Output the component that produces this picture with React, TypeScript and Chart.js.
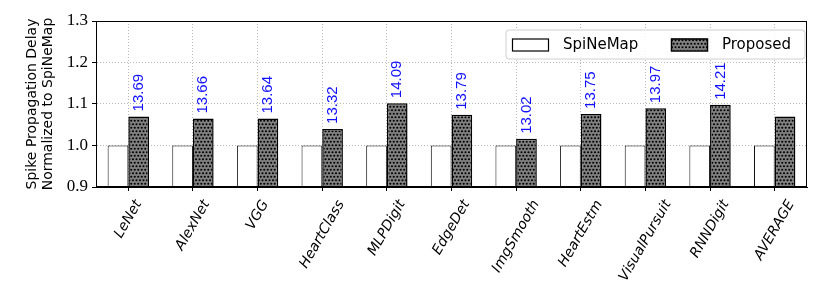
import { useEffect, useRef } from "react";
import { Chart, registerables } from "chart.js";

Chart.register(...registerables);

const categories = ["LeNet", "AlexNet", "VGG", "HeartClass", "MLPDigit", "EdgeDet", "ImgSmooth", "HeartEstm", "VisualPursuit", "RNNDigit", "AVERAGE"];
const spinemapValues = [1, 1, 1, 1, 1, 1, 1, 1, 1, 1, 1];
const proposedValues = [1.07, 1.065, 1.065, 1.04, 1.102, 1.074, 1.016, 1.076, 1.09, 1.098, 1.07];
const proposedLabels = ["13.69", "13.66", "13.64", "13.32", "14.09", "13.79", "13.02", "13.75", "13.97", "14.21", ""];
const yMin = 0.9;
const yMax = 1.3;
const yStep = 0.1;
const yTitle = ["Spike Propagation Delay", "Normalized to SpiNeMap"];
const seriesNames = ["SpiNeMap", "Proposed"];

function makePattern(): CanvasPattern | string {
  const c = document.createElement("canvas");
  c.width = 7;
  c.height = 7;
  const g = c.getContext("2d");
  if (!g) return "#555";
  g.fillStyle = "#808080";
  g.fillRect(0, 0, 7, 7);
  g.fillStyle = "#000";
  const dots = [
    [1.75, 1.75], [5.25, 1.75],
    [0, 5.25], [3.5, 5.25], [7, 5.25],
  ];
  for (const [x, y] of dots) {
    g.beginPath();
    g.arc(x, y, 1.05, 0, Math.PI * 2);
    g.fill();
  }
  const p = g.createPattern(c, "repeat");
  return p || "#555";
}

export default function App() {
  const ref = useRef<HTMLCanvasElement | null>(null);

  useEffect(() => {
    document.body.style.margin = "0";
    const canvas = ref.current;
    if (!canvas) return;
    const pattern = makePattern();

    const valueLabels = {
      id: "valueLabels",
      afterDatasetsDraw(chart: any) {
        const ctx = chart.ctx;
        const meta = chart.getDatasetMeta(1);
        ctx.save();
        ctx.fillStyle = "#1010ff";
        ctx.font = '15px "Liberation Sans"';
        ctx.textAlign = "left";
        ctx.textBaseline = "middle";
        meta.data.forEach((el: any, i: number) => {
          const t = proposedLabels[i];
          if (!t) return;
          ctx.save();
          ctx.translate(el.x, el.y - 5);
          ctx.rotate(-Math.PI / 2);
          ctx.fillText(t, 0, 0);
          ctx.restore();
        });
        ctx.restore();
      },
    };

    const frameAndLegend = {
      id: "frameAndLegend",
      afterDraw(chart: any) {
        const ctx = chart.ctx;
        const ca = chart.chartArea;
        ctx.save();
        ctx.strokeStyle = "#000";
        ctx.lineWidth = 1;
        ctx.strokeRect(Math.round(ca.left) + 0.5, Math.round(ca.top) + 0.5, Math.round(ca.right - ca.left) - 1, Math.round(ca.bottom - ca.top) - 1);
        ctx.restore();

        const xs = chart.scales.x;
        ctx.save();
        ctx.font = 'italic 14px "DejaVu Sans"';
        ctx.fillStyle = "#000";
        ctx.textAlign = "center";
        ctx.textBaseline = "middle";
        const ang = (60 * Math.PI) / 180;
        categories.forEach((c, i) => {
          const x = xs.getPixelForTick(i);
          const w = ctx.measureText(c).width;
          const h = 14;
          const vert = w * Math.sin(ang) + h * Math.cos(ang);
          const cy = ca.bottom + 11 + vert / 2;
          ctx.save();
          ctx.translate(x, cy);
          ctx.rotate(-ang);
          ctx.fillText(c, 0, 0);
          ctx.restore();
        });
        ctx.restore();

        const bw = 299, bh = 29;
        const bx = ca.right - 2 - bw;
        const by = ca.top + 9;
        ctx.save();
        ctx.beginPath();
        const r = 3;
        ctx.moveTo(bx + r, by);
        ctx.lineTo(bx + bw - r, by);
        ctx.arcTo(bx + bw, by, bx + bw, by + r, r);
        ctx.lineTo(bx + bw, by + bh - r);
        ctx.arcTo(bx + bw, by + bh, bx + bw - r, by + bh, r);
        ctx.lineTo(bx + r, by + bh);
        ctx.arcTo(bx, by + bh, bx, by + bh - r, r);
        ctx.lineTo(bx, by + r);
        ctx.arcTo(bx, by, bx + r, by, r);
        ctx.closePath();
        ctx.fillStyle = "rgba(255,255,255,0.85)";
        ctx.fill();
        ctx.strokeStyle = "#d0d0d0";
        ctx.lineWidth = 1;
        ctx.stroke();
        const cyL = by + bh / 2;
        const items = [
          { x: bx + 6, fill: "#ffffff" as any, lw: 1.2 },
          { x: bx + 165, fill: pattern as any, lw: 1.5 },
        ];
        ctx.font = '15px "DejaVu Sans"';
        ctx.textBaseline = "middle";
        ctx.textAlign = "left";
        items.forEach((it, i) => {
          ctx.fillStyle = it.fill;
          ctx.fillRect(it.x, cyL - 6, 36, 12);
          ctx.strokeStyle = "#000";
          ctx.lineWidth = it.lw;
          ctx.strokeRect(it.x + 0.5, cyL - 6 + 0.5, 36, 12);
          ctx.fillStyle = "#000";
          ctx.fillText(seriesNames[i], it.x + 51, cyL + 1);
        });
        ctx.restore();
      },
    };

    const chart = new Chart(canvas, {
      type: "bar",
      data: {
        labels: categories,
        datasets: [
          {
            label: seriesNames[0],
            data: spinemapValues,
            backgroundColor: "#ffffff",
            borderColor: "#111",
            borderWidth: 1,
            categoryPercentage: 0.64,
            barPercentage: 1.0,
          } as any,
          {
            label: seriesNames[1],
            data: proposedValues,
            backgroundColor: pattern as any,
            borderColor: "#000",
            borderWidth: 1.5,
            categoryPercentage: 0.64,
            barPercentage: 1.0,
          } as any,
        ],
      },
      options: {
        animation: false,
        responsive: true,
        maintainAspectRatio: false,
        layout: { padding: { top: 21, right: 15, left: 0, bottom: 0 } },
        plugins: {
          legend: { display: false },
          tooltip: { enabled: false },
        },
        scales: {
          x: {
            type: "category",
            offset: true,
            grid: {
              display: true,
              offset: false,
              color: "#b8b8b8",
              lineWidth: 1,
              drawTicks: true,
              tickLength: 4,
              tickColor: "#000",
              tickBorderDash: [],
            } as any,
            border: { display: true, color: "#000", width: 1, dash: [1, 2] },
            ticks: { display: false },
            afterFit: (s: any) => {
              s.height = 115;
            },
          },
          y: {
            min: yMin,
            max: yMax,
            grid: {
              color: "#b8b8b8",
              lineWidth: 1,
              drawTicks: true,
              tickLength: 4,
              tickColor: "#000",
              tickBorderDash: [],
            } as any,
            border: { display: true, color: "#000", width: 1, dash: [1, 2] },
            ticks: {
              stepSize: yStep,
              color: "#000",
              font: { family: '"Liberation Serif"', size: 17 },
              padding: 4,
              callback: (v: any) => Number(v).toFixed(1),
            },
            title: {
              display: true,
              text: yTitle,
              color: "#000",
              font: { family: '"DejaVu Sans"', size: 14, lineHeight: 1.15 },
              padding: { top: 24, bottom: 0 },
            },
            afterFit: (s: any) => {
              s.width = 96;
            },
          },
        },
      },
      plugins: [valueLabels, frameAndLegend],
    });

    return () => chart.destroy();
  }, []);

  return (
    <div style={{ position: "fixed", left: 0, top: 0, width: 822, height: 302 }}>
      <canvas ref={ref} width={822} height={302} />
    </div>
  );
}
